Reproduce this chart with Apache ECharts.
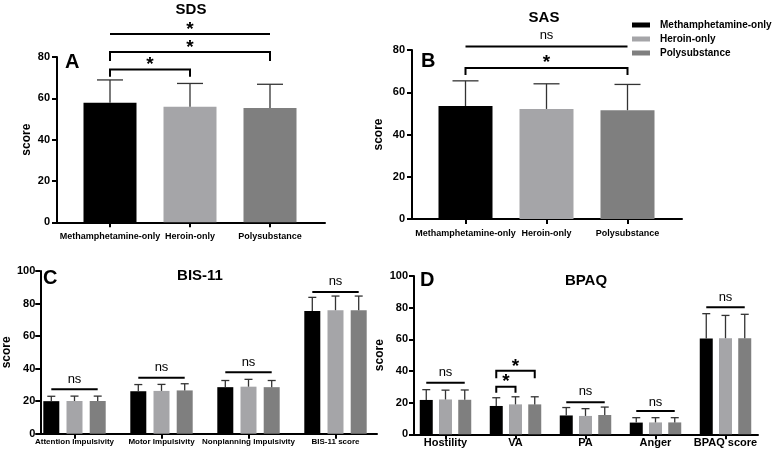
<!DOCTYPE html>
<html>
<head>
<meta charset="utf-8">
<script src="https://cdn.jsdelivr.net/npm/echarts@6/dist/echarts.min.js"></script>
<style>
  html, body { margin: 0; padding: 0; background: #fff; }
  #main { width: 779px; height: 456px; }
</style>
</head>
<body>
<div id="main"></div>
<script>
const groups = ['Methamphetamine-only', 'Heroin-only', 'Polysubstance'];

// A: SDS (mean, SD)
const sdsMean = [57.9, 55.9, 55.3];
const sdsSd = [11.0, 11.3, 11.5];

// B: SAS
const sasMean = [53.5, 52.1, 51.5];
const sasSd = [11.9, 11.9, 12.2];

// C: BIS-11
const bisCats = ['Attention Impulsivity', 'Motor Impulsivity', 'Nonplanning Impulsivity', 'BIS-11 score'];
const bisMeth = [20.0, 26.1, 28.6, 75.4];
const bisMethSd = [3.0, 4.1, 4.1, 8.4];
const bisHer = [20.1, 26.3, 28.9, 75.9];
const bisHerSd = [3.0, 4.0, 4.5, 8.7];
const bisPoly = [20.1, 26.6, 28.6, 75.9];
const bisPolySd = [3.0, 4.1, 4.1, 8.7];

// D: BPAQ
const bpaqCats = ['Hostility', 'VA', 'PA', 'Anger', 'BPAQ score'];
const bpaqMeth = [21.7, 17.9, 11.9, 7.4, 60.5];
const bpaqMethSd = [6.5, 5.2, 5.0, 3.1, 15.7];
const bpaqHer = [22.0, 18.9, 11.6, 7.5, 60.7];
const bpaqHerSd = [5.9, 4.8, 4.6, 3.0, 14.4];
const bpaqPoly = [21.8, 18.9, 12.2, 7.5, 60.7];
const bpaqPolySd = [6.2, 4.8, 5.0, 3.0, 15.1];

// significance marks: from/to = [category, bar slot], y = bar level,
// end = level the bracket legs drop to (null = plain line), ly = label level
const sdsSig = [
  { from: [0, 0], to: [2, 0], y: 91.1, end: null, label: '*', ly: 95.0 },
  { from: [0, 0], to: [2, 0], y: 82.4, end: 78.1, label: '*', ly: 86.3 },
  { from: [0, 0], to: [1, 0], y: 73.9, end: 70.5, label: '*', ly: 78.0 }
];
const sasSig = [
  { from: [0, 0], to: [2, 0], y: 81.6, end: null, label: 'ns', ly: 87.1 },
  { from: [0, 0], to: [2, 0], y: 71.5, end: 68.2, label: '*', ly: 75.7 }
];
const bisSig = [
  { from: [0, -1], to: [0, 1], y: 27.3, end: null, label: 'ns', ly: 33.6 },
  { from: [1, -1], to: [1, 1], y: 34.4, end: null, label: 'ns', ly: 41.0 },
  { from: [2, -1], to: [2, 1], y: 37.7, end: null, label: 'ns', ly: 44.1 },
  { from: [3, -1], to: [3, 1], y: 87.1, end: null, label: 'ns', ly: 93.9 }
];
const bpaqSig = [
  { from: [0, -1], to: [0, 1], y: 32.6, end: null, label: 'ns', ly: 38.9 },
  { from: [1, -1], to: [1, 0], y: 30.1, end: 26.3, label: '*', ly: 35.6 },
  { from: [1, -1], to: [1, 1], y: 40.2, end: 35.4, label: '*', ly: 45.2 },
  { from: [2, -1], to: [2, 1], y: 20.2, end: null, label: 'ns', ly: 26.9 },
  { from: [3, -1], to: [3, 1], y: 14.7, end: null, label: 'ns', ly: 20.4 },
  { from: [4, -1], to: [4, 1], y: 80.2, end: null, label: 'ns', ly: 86.7 }
];

const FONT = '"Liberation Sans", Arial, Helvetica, sans-serif';
const colors = ['#000000', '#a5a5a8', '#7f7f7f'];

const option = {
  animation: false,
  backgroundColor: '#ffffff',
  color: colors,
  textStyle: { fontFamily: FONT },
  grid: [],
  xAxis: [],
  yAxis: [],
  series: [],
  graphic: [],
  legend: {
    data: groups,
    orient: 'vertical',
    left: 632,
    top: 20,
    icon: 'rect',
    itemWidth: 18,
    itemHeight: 5,
    itemGap: 4,
    padding: 0,
    textStyle: { fontSize: 10, fontWeight: 'bold', color: '#000', fontFamily: FONT,
      padding: [0, 0, 0, 5] }
  }
};

function addText(text, x, y, size, align) {
  option.graphic.push({
    type: 'text', x: x, y: y, silent: true,
    style: { text: text, align: align || 'center', verticalAlign: 'middle',
      font: 'bold ' + size + 'px ' + FONT, fill: '#000' }
  });
}

function addPanel(p) {
  const gi = option.grid.length;
  const h = p.bottom - p.top;
  const step = p.barWidth * (1 + p.gap);

  // outer grid: axis lines and y labels
  option.grid.push({ left: p.left, top: p.top, width: p.right - p.left, height: h });
  // inner grid: bars and category labels
  option.grid.push({ left: p.innerLeft, top: p.top, width: p.innerRight - p.innerLeft, height: h });

  option.xAxis.push({
    type: 'category', gridIndex: gi, data: [''],
    axisLine: { lineStyle: { color: '#000', width: 2 } },
    axisTick: { show: false }, axisLabel: { show: false }
  });
  option.yAxis.push({
    type: 'value', gridIndex: gi, min: 0, max: p.max, interval: 20,
    name: 'score', nameLocation: 'middle', nameRotate: 90, nameGap: p.nameGap,
    nameTextStyle: { fontSize: 12, fontWeight: 'bold', color: '#000', fontFamily: FONT },
    axisLine: { show: true, lineStyle: { color: '#000', width: 2 } },
    axisTick: { show: true, length: 5, lineStyle: { color: '#000', width: 2 } },
    axisLabel: { fontSize: 11, fontWeight: 'bold', color: '#000', margin: p.yMargin, fontFamily: FONT },
    splitLine: { show: false }
  });
  option.xAxis.push({
    type: 'category', gridIndex: gi + 1, data: p.cats,
    axisLine: { show: false },
    axisTick: { show: true, alignWithLabel: true, length: 5, lineStyle: { color: '#000', width: 2 } },
    axisLabel: { interval: 0, fontSize: p.labelSize, fontWeight: 'bold', color: '#000',
      margin: p.xMargin, fontFamily: FONT }
  });
  option.yAxis.push({ type: 'value', gridIndex: gi + 1, min: 0, max: p.max, show: false });

  const errData = [];
  p.means.forEach(function (vals, g) {
    const slot = p.single ? 0 : g - 1;
    option.series.push({
      name: groups[g], type: 'bar', xAxisIndex: gi + 1, yAxisIndex: gi + 1,
      barWidth: p.barWidth, barGap: p.single ? '-100%' : (p.gap * 100) + '%',
      itemStyle: { color: colors[g] },
      data: vals
    });
    vals.forEach(function (v, i) {
      if (v !== '-') errData.push([i, slot, v, p.sds[g][i]]);
    });
  });

  option.series.push({
    type: 'custom', xAxisIndex: gi + 1, yAxisIndex: gi + 1, z: 3, silent: true,
    data: errData,
    renderItem: function (params, api) {
      const base = api.coord([api.value(0), api.value(2)]);
      const top = api.coord([api.value(0), api.value(2) + api.value(3)]);
      const x = base[0] + api.value(1) * step;
      const st = { stroke: '#333', lineWidth: 1.3 };
      return {
        type: 'group', children: [
          { type: 'line', shape: { x1: x, y1: base[1], x2: x, y2: top[1] }, style: st },
          { type: 'line', shape: { x1: x - p.cap / 2, y1: top[1], x2: x + p.cap / 2, y2: top[1] }, style: st }
        ]
      };
    }
  });

  option.series.push({
    type: 'custom', xAxisIndex: gi + 1, yAxisIndex: gi + 1, z: 4, silent: true, clip: false,
    data: p.sig.map(function (s) { return [s.from[0], s.y]; }),
    renderItem: function (params, api) {
      const s = p.sig[params.dataIndex];
      const x0 = api.coord([s.from[0], s.y])[0] + s.from[1] * step;
      const x1 = api.coord([s.to[0], s.y])[0] + s.to[1] * step;
      const y = api.coord([s.from[0], s.y])[1];
      const ly = api.coord([s.from[0], s.ly])[1];
      const line = { stroke: '#000', lineWidth: 2, fill: null };
      let shape;
      if (s.end === null) {
        shape = { type: 'line', shape: { x1: x0, y1: y, x2: x1, y2: y }, style: line };
      } else {
        const ye = api.coord([s.from[0], s.end])[1];
        shape = { type: 'polyline', shape: { points: [[x0, ye], [x0, y], [x1, y], [x1, ye]] }, style: line };
      }
      const star = s.label === '*';
      return {
        type: 'group', children: [
          shape,
          { type: 'text', style: {
              text: s.label, x: (x0 + x1) / 2, y: ly + (star ? 4 : 0),
              align: 'center', verticalAlign: 'middle',
              font: (star ? 'bold 19px ' : '13px ') + FONT, fill: '#000' } }
        ]
      };
    }
  });

  addText(p.title, p.titleX, p.titleY, 15);
  addText(p.letter, p.letterX, p.letterY, 20, 'left');
}

function onlyAt(vals) {
  return vals.map(function (v, g) {
    return groups.map(function (_, i) { return i === g ? v : '-'; });
  });
}
function spread(vals) {
  return vals.map(function (v, g) {
    return groups.map(function (_, i) { return i === g ? v : 0; });
  });
}

addPanel({
  title: 'SDS', titleX: 191, titleY: 10, letter: 'A', letterX: 65, letterY: 62,
  left: 57, right: 325, top: 57, bottom: 222.3, innerLeft: 70, innerRight: 310,
  max: 80, cats: groups, single: true, means: onlyAt(sdsMean), sds: spread(sdsSd),
  barWidth: 53, gap: 0, cap: 26, sig: sdsSig,
  nameGap: 24, yMargin: 7, labelSize: 9, xMargin: 10
});

addPanel({
  title: 'SAS', titleX: 544, titleY: 18, letter: 'B', letterX: 421, letterY: 61,
  left: 412, right: 682, top: 50, bottom: 219, innerLeft: 425, innerRight: 668,
  max: 80, cats: groups, single: true, means: onlyAt(sasMean), sds: spread(sasSd),
  barWidth: 54, gap: 0, cap: 26, sig: sasSig,
  nameGap: 27, yMargin: 7, labelSize: 9, xMargin: 10
});

addPanel({
  title: 'BIS-11', titleX: 200, titleY: 276, letter: 'C', letterX: 43, letterY: 278,
  left: 35, right: 377, top: 271, bottom: 433.7, innerLeft: 31, innerRight: 379,
  max: 100, cats: bisCats, single: false,
  means: [bisMeth, bisHer, bisPoly], sds: [bisMethSd, bisHerSd, bisPolySd],
  barWidth: 16, gap: 0.45, cap: 8, sig: bisSig,
  nameGap: 22, yMargin: 5, labelSize: 8, xMargin: 4
});

addPanel({
  title: 'BPAQ', titleX: 586, titleY: 281, letter: 'D', letterX: 420, letterY: 280,
  left: 414, right: 758, top: 276, bottom: 434.3, innerLeft: 410.5, innerRight: 760.5,
  max: 100, cats: bpaqCats, single: false,
  means: [bpaqMeth, bpaqHer, bpaqPoly], sds: [bpaqMethSd, bpaqHerSd, bpaqPolySd],
  barWidth: 13, gap: 0.48, cap: 8, sig: bpaqSig,
  nameGap: 19, yMargin: 6, labelSize: 11, xMargin: 3
});

const chart = echarts.init(document.getElementById('main'));
chart.setOption(option);
</script>
</body>
</html>
